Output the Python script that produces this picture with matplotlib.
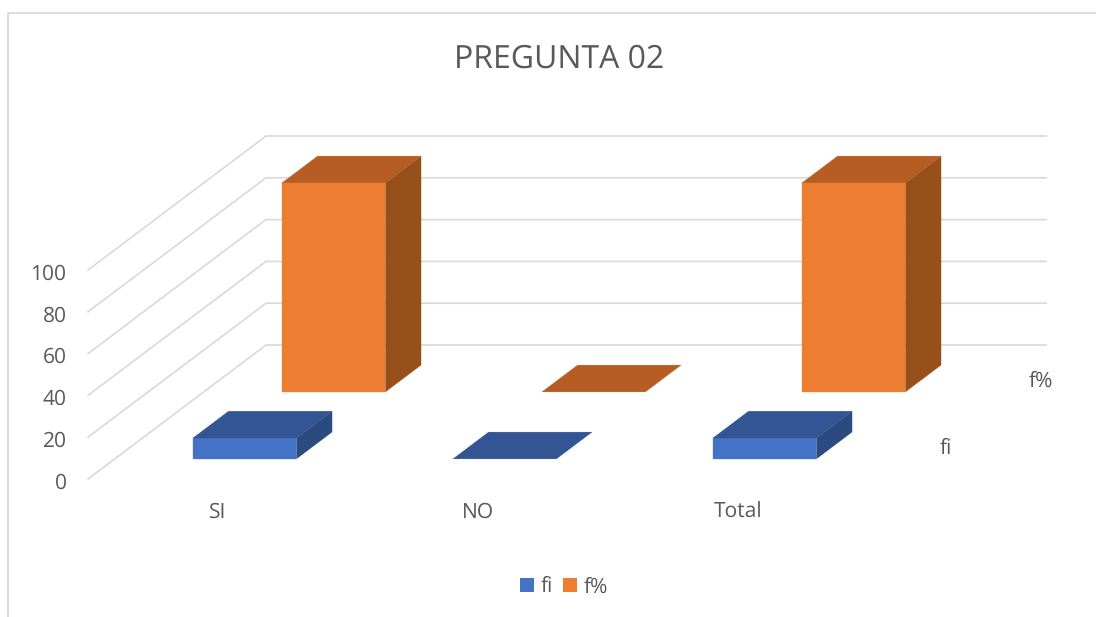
import matplotlib
matplotlib.use("Agg")
import matplotlib.pyplot as plt
from matplotlib.patches import Polygon, Patch
from matplotlib.lines import Line2D
from matplotlib.transforms import ScaledTranslation

categories = ["SI", "NO", "Total"]
series_names = ["fi", "f%"]
fi_values = [10, 0, 10]
fp_values = [100, 0, 100]
y_ticks = [0, 20, 40, 60, 80, 100]
title = "PREGUNTA 02"

W, H = 1096, 617
plt.rcParams["font.family"] = ["Open Sans", "DejaVu Sans"]
plt.rcParams["text.hinting"] = "no_hinting"
plt.rcParams["text.hinting_factor"] = 1
TXT = "#595959"
GRID = "#d9d9d9"

fig = plt.figure(figsize=(W / 100, H / 100), dpi=100, facecolor="white")
L, R, B, T = 88, 868, 479, 270
ax = fig.add_axes([L / W, 1 - B / H, (R - L) / W, (B - T) / H])
ax.set_xlim(0, len(categories))
ax.set_ylim(0, 100)
ax.patch.set_alpha(0)
for s in ax.spines.values():
    s.set_visible(False)

# oblique projection of the depth axis, in data units per unit of depth
DX = 178 / ((R - L) / len(categories))
DY = 134 / ((B - T) / 100)


def P(x, y, d):
    return (x + DX * d, y + DY * d)


# walls
for v in y_ticks:
    xs, ys = zip(P(0, v, 0), P(0, v, 1), P(3, v, 1))
    ax.add_line(Line2D(xs, ys, color=GRID, lw=1.2, clip_on=False, zorder=1,
                       solid_joinstyle="miter"))


def bar3d(x, v, d0, d1, hw, front, top, side, z):
    x0, x1 = x - hw, x + hw
    kw = dict(clip_on=False, zorder=z, lw=0.2)
    if v > 0:
        ax.add_patch(Polygon([P(x1, 0, d0), P(x1, 0, d1), P(x1, v, d1), P(x1, v, d0)],
                             fc=side, ec=side, **kw))
        ax.add_patch(Polygon([P(x0, 0, d0), P(x1, 0, d0), P(x1, v, d0), P(x0, v, d0)],
                             fc=front, ec=front, **kw))
    ax.add_patch(Polygon([P(x0, v, d0), P(x1, v, d0), P(x1, v, d1), P(x0, v, d1)],
                         fc=top, ec=top, **kw))


HW = 0.199
for i, v in enumerate(fp_values):
    bar3d(i + 0.5, v, 0.65, 0.85, HW, "#ed7d31", "#b55d22", "#98501b", 3)
for i, v in enumerate(fi_values):
    bar3d(i + 0.5, v, 0.15, 0.35, HW, "#4472c4", "#335593", "#2b4a80", 4)

# axes text
ax.set_yticks(y_ticks)
ax.set_xticks([i + 0.5 for i in range(len(categories))])
ax.set_xticklabels(categories)
ax.tick_params(axis="both", length=0, labelsize=15, labelcolor=TXT)
ax.tick_params(axis="y", pad=15.5)
ax.tick_params(axis="x", pad=16.5)
shift = ScaledTranslation(0, -1.7 / 100, fig.dpi_scale_trans)
for tick in ax.yaxis.get_major_ticks():
    tick.label1.set_transform(tick.label1.get_transform() + shift)

# series (depth) labels
for name, d in zip(series_names, (0.25, 0.75)):
    x_, y_ = P(3, 0, d)
    ax.text(x_ + 0.105, y_ - 1.5, name, fontsize=15, color=TXT, ha="left",
            va="center", clip_on=False)

fig.text(559 / W, 1 - 59 / H, title, fontsize=23, color=TXT, ha="center", va="center")

# outer frame
fig.add_artist(Line2D([8 / W, 8 / W, 1], [0, 1 - 13 / H, 1 - 13 / H],
                      color=GRID, lw=1.3, transform=fig.transFigure))

handles = [Patch(fc="#4472c4", label=series_names[0]), Patch(fc="#ed7d31", label=series_names[1])]
fig.legend(handles=handles, ncol=2, frameon=False, loc="center",
           bbox_to_anchor=(564 / W, 1 - 587 / H), fontsize=15, labelcolor=TXT,
           handlelength=0.66, handleheight=0.66, handletextpad=0.33, columnspacing=0.5,
           borderpad=0)

fig.savefig("out.png", dpi=100)
